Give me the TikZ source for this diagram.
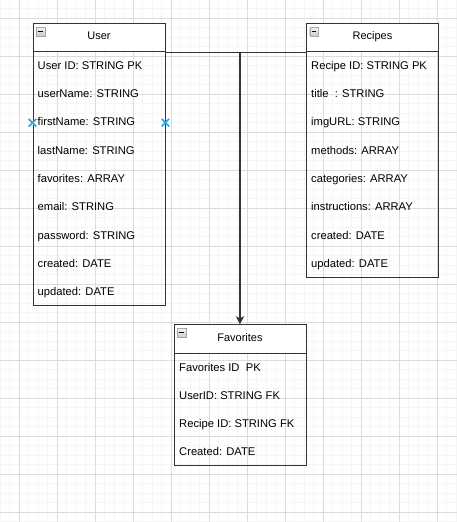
\documentclass[tikz,border=0pt]{standalone}
\usepackage{fontspec}
\setmainfont{Liberation Sans}
\usetikzlibrary{positioning,arrows.meta,shapes.misc}
\definecolor{gridminor}{HTML}{F6F6F6}
\definecolor{gridmajor}{HTML}{DCDCDC}
\definecolor{edgegray}{HTML}{333333}
\definecolor{markblue}{HTML}{29A8E0}
\tikzset{
  tablebox/.style={draw=edgegray, line width=0.9pt, minimum width=132pt, anchor=north west, inner sep=0pt},
  tablehead/.style={tablebox, fill=white, minimum height=28.3pt, text height=8pt, text depth=3.7pt,
    font=\fontsize{11}{13}\selectfont},
  tablerow/.style={anchor=base west, inner sep=0pt, font=\fontsize{11.2}{13}\selectfont},
  collapse/.style={draw=gray!70, top color=gray!10, bottom color=gray!40, minimum size=8.6pt,
    inner sep=0pt, anchor=north west,
    path picture={\draw[black, line width=1.3pt] ([xshift=2pt]path picture bounding box.west)
      -- ([xshift=-2pt]path picture bounding box.east);}},
  pin/.style={cross out, draw=markblue, line width=1.6pt, minimum size=6pt, inner sep=0pt},
  gridline/.style={line width=1pt},
}
\begin{document}
\begin{tikzpicture}[x=1pt,y=-1pt]
\useasboundingbox (0,0) rectangle (457,522);
% background grid
\foreach \k in {0,...,48} \draw[gridline, gridminor] ({int(9.5*\k)+0.5},0) -- ({int(9.5*\k)+0.5},522);
\foreach \k in {0,...,55} \draw[gridline, gridminor] (0,{int(9.5*\k-1)+0.5}) -- (457,{int(9.5*\k-1)+0.5});
\foreach \k in {0,...,11} \draw[gridline, gridmajor] ({19+38*\k+0.5},0) -- ({19+38*\k+0.5},522);
\foreach \k in {0,...,13} \draw[gridline, gridmajor] (0,{18+38*\k+0.5}) -- (457,{18+38*\k+0.5});

% User table
\node[tablehead] (userhead) at (32.5,23) {User};
\node[tablebox, minimum height=282pt] (user) at (32.5,23) {};
\node[collapse] (usericon) at ([xshift=3.5pt,yshift=-4pt]user.north west) {};
\foreach \t [count=\i] in {User ID: STRING PK, userName: STRING, firstName: STRING,
  lastName: STRING, favorites: ARRAY, email: STRING, password: STRING,
  created: DATE, updated: DATE}
  \path (userhead.south west) ++(5,{17+28.3*(\i-1)}) node[tablerow] (userrow\i) {\t};

% Recipes table
\node[tablehead] (rechead) at (306,23) {Recipes};
\node[tablebox, minimum height=253.7pt] (recipes) at (306,23) {};
\node[collapse] (recicon) at ([xshift=3.5pt,yshift=-4pt]recipes.north west) {};
\foreach \t [count=\i] in {Recipe ID: STRING PK, title~~: STRING, imgURL: STRING,
  methods: ARRAY, categories: ARRAY, instructions: ARRAY, created: DATE, updated: DATE}
  \path (rechead.south west) ++(5,{17+28.3*(\i-1)}) node[tablerow] (recrow\i) {\t};

% Favorites table
\node[tablehead] (favhead) at (173.5,324.3) {Favorites};
\node[tablebox, minimum height=140.7pt] (favorites) at (173.5,324.3) {};
\node[collapse] (favicon) at ([xshift=3.5pt,yshift=-4pt]favorites.north west) {};
\foreach \t [count=\i] in {Favorites ID~~PK, UserID: STRING FK, Recipe ID: STRING FK,
  Created: DATE}
  \path (favhead.south west) ++(5.5,{17.5+28.3*(\i-1)}) node[tablerow] (favrow\i) {\t};

% relation
\draw[edgegray, line width=0.9pt] (userhead.south east) -- (rechead.south west);
\draw[edgegray, line width=1.5pt, -{Stealth[length=8pt,width=8pt,inset=2pt]}]
  (userhead.south east -| favhead.north) -- (favhead.north);

% connection markers
\node[pin] (pinleft) at (user.west |- 0,122.7) {};
\node[pin] (pinright) at (user.east |- 0,122.7) {};
\end{tikzpicture}
\end{document}
